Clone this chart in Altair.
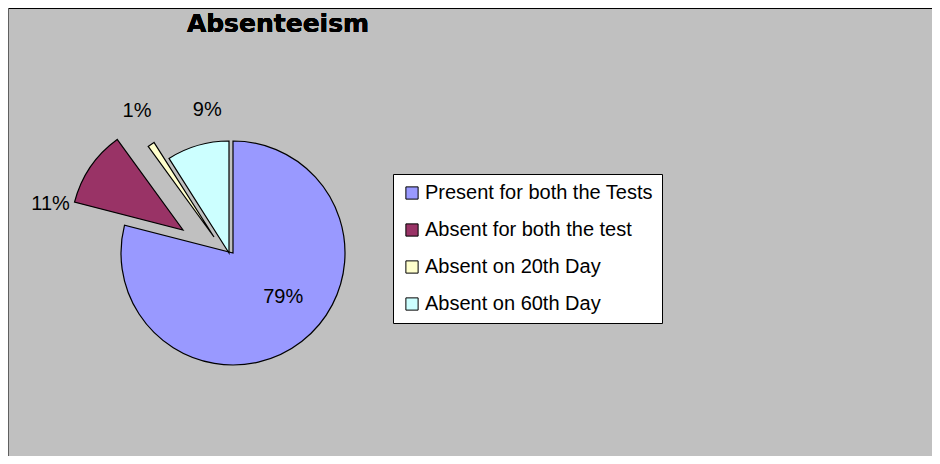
import altair as alt
import pandas as pd

# ---- data ----
categories = ["Present for both the Tests", "Absent for both the test",
              "Absent on 20th Day", "Absent on 60th Day"]
values = [79, 11, 1, 9]
labels = ["79%", "11%", "1%", "9%"]
title_text = "Absenteeism"

# ---- style ----
colors = ["#9999FF", "#993366", "#FFFFCC", "#CCFFFF"]
W, H = 924, 448
CX, CY, R = 225, 245, 112
explode = [(0, 0), (-50, -23), (-19, -16), (-4, 0)]      # pixel shift of each slice
label_radius = [67, 135, 148, 145]
label_shift = [-3.0, -6.4, 0.8, 2.1]                      # angle tweak in % units

df = pd.DataFrame({"order": list(range(len(categories))),
                   "category": categories, "value": values, "label": labels})

theta_scale = alt.Scale(domain=[0, 100], range=[0, 6.283185307179586])
color_scale = alt.Scale(domain=categories, range=colors)

base = (alt.Chart(df)
        .transform_window(end="sum(value)", sort=[alt.SortField("order")])
        .transform_calculate(start="datum.end - datum.value",
                             mid="(datum.end + datum.end - datum.value) / 2"))

layers = []
for i in range(len(categories)):
    dx, dy = explode[i]
    sl = base.transform_filter(alt.datum.order == i)
    legend = alt.Legend(title=None, orient="none", legendX=385, legendY=166,
                        symbolType="square", symbolSize=150,
                        symbolStrokeColor="black", symbolStrokeWidth=1,
                        labelFont="Liberation Sans", labelFontSize=20,
                        labelColor="black", labelOffset=3, rowPadding=17,
                        padding=9, fillColor="white", strokeColor="black",
                        labelLimit=400) if i == 0 else None
    arc = sl.mark_arc(stroke="black", strokeWidth=1.2).encode(
        theta=alt.Theta("start:Q", scale=theta_scale),
        theta2="end:Q",
        color=alt.Color("category:N", scale=color_scale, legend=legend,
                        sort=categories),
        x=alt.value(CX + dx), y=alt.value(CY + dy),
        radius=alt.value(R),
    )
    txt = sl.transform_calculate(lab=f"datum.mid + ({label_shift[i]})").mark_text(
        font="Liberation Sans", fontSize=20, color="black",
        align="center", baseline="middle").encode(
        theta=alt.Theta("lab:Q", scale=theta_scale, stack=False),
        radius=alt.value(label_radius[i]),
        x=alt.value(CX + dx), y=alt.value(CY + dy),
        text="label:N",
    )
    layers += [arc, txt]

title = alt.Chart(df).mark_text(
    font="DejaVu Sans", fontSize=25, fontWeight="bold", color="black",
    align="center", baseline="middle").encode(
    text=alt.value(title_text), x=alt.value(270), y=alt.value(16))

top_line = alt.Chart(df).mark_rule(color="black", strokeWidth=1.2).encode(
    x=alt.value(0), x2=alt.value(W), y=alt.value(0.5))
left_line = alt.Chart(df).mark_rule(color="#606060", strokeWidth=2).encode(
    x=alt.value(0), y=alt.value(0), y2=alt.value(H))

chart = alt.layer(*layers, title, top_line, left_line).properties(
    width=W, height=H,
    autosize=alt.AutoSizeParams(type="none"),
    padding=0,
    background="#C0C0C0",
).configure_view(stroke=None)

chart.save("out.html", embed_options={"renderer": "svg", "actions": False})
